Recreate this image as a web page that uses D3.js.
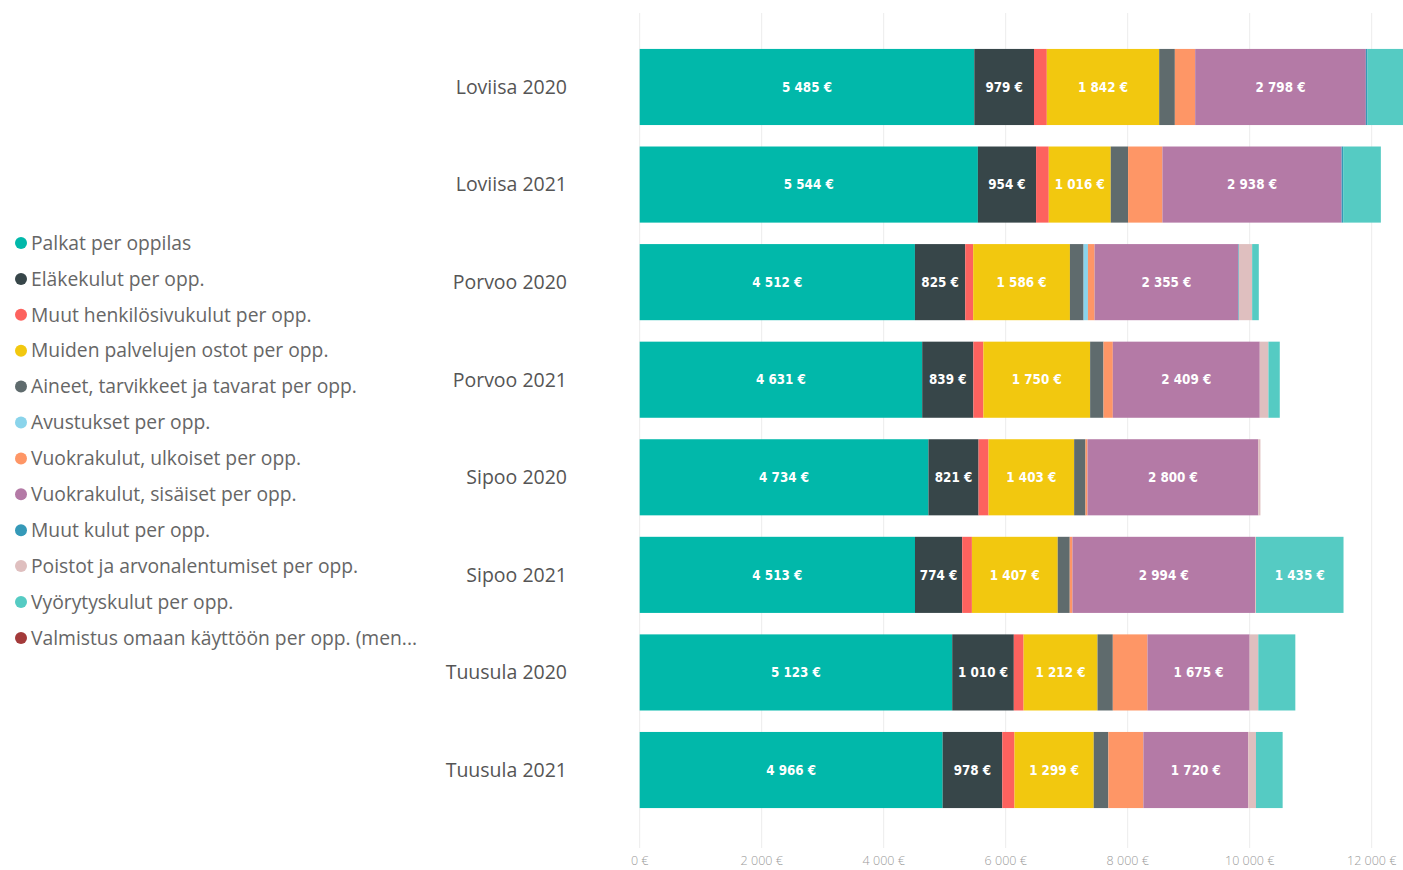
<!DOCTYPE html>
<html><head><meta charset="utf-8">
<script src="https://cdn.jsdelivr.net/npm/d3@7"></script>
<style>
html,body{margin:0;padding:0;background:#fff;overflow:hidden}
svg{display:block}
</style></head>
<body>
<svg id="chart" width="1403" height="870"></svg>
<script>
const categories = ["Loviisa 2020","Loviisa 2021","Porvoo 2020","Porvoo 2021","Sipoo 2020","Sipoo 2021","Tuusula 2020","Tuusula 2021"];
const seriesNames = ["Palkat per oppilas","Eläkekulut per opp.","Muut henkilösivukulut per opp.","Muiden palvelujen ostot per opp.","Aineet, tarvikkeet ja tavarat per opp.","Avustukset per opp.","Vuokrakulut, ulkoiset per opp.","Vuokrakulut, sisäiset per opp.","Muut kulut per opp.","Poistot ja arvonalentumiset per opp.","Vyörytyskulut per opp.","Valmistus omaan käyttöön per opp. (men..."];
const seriesColors = ["#01B8AA","#374649","#FD625E","#F2C80F","#5F6B6D","#8AD4EB","#FE9666","#B47AA6","#3599B8","#DFBFBF","#55CBC3","#A33A3A"];
const palkat     = [5485,5544,4512,4631,4734,4513,5123,4966];
const elake      = [979,954,825,839,821,774,1010,978];
const muutHenk   = [210,208,130,164,164,159,160,200];
const palvelut   = [1842,1016,1586,1750,1403,1407,1212,1299];
const aineet     = [257,284,224,219,186,197,251,240];
const avustukset = [0,0,71,0,0,0,0,0];
const vuokraUlk  = [333,563,109,153,33,44,568,574];
const vuokraSis  = [2798,2938,2355,2409,2800,2994,1675,1720];
const muutKulut  = [28,25,10,0,0,0,0,0];
const poistot    = [0,0,218,142,35,15,142,126];
const vyorytys   = [650,618,109,186,0,1435,607,437];
const valmistus  = [0,0,0,0,0,0,0,0];
const xTicks = [0,2000,4000,6000,8000,10000,12000];

const seriesValues = [palkat,elake,muutHenk,palvelut,aineet,avustukset,vuokraUlk,vuokraSis,muutKulut,poistot,vyorytys,valmistus];
const rows = categories.map((c,i)=>{const o={cat:c}; seriesNames.forEach((s,j)=>o[s]=seriesValues[j][i]); return o;});

const loc = d3.formatLocale({decimal:",",thousands:"\u00a0",grouping:[3],currency:[""," €"]});
const fmt = v => loc.format(",.0f")(v) + " €";

const svg = d3.select("#chart");
const x = d3.scaleLinear().domain([0,12000]).range([639.7,1371.7]);
const y = d3.scaleBand().domain(categories).range([38.2,818.8]).paddingInner(0.22).paddingOuter(0.11);

// gridlines
svg.append("g").selectAll("line").data(xTicks).join("line")
  .attr("x1",d=>x(d)).attr("x2",d=>x(d)).attr("y1",13).attr("y2",848)
  .attr("stroke","#ececec").attr("stroke-width",1);

// axis labels
svg.append("g").selectAll("text").data(xTicks).join("text")
  .attr("x",d=>x(d)).attr("y",865).attr("text-anchor","middle")
  .attr("font-family","'Open Sans', sans-serif").attr("font-size",12.5).attr("font-weight",300)
  .attr("fill","#9a9a9a").text(d=>fmt(d));

const stack = d3.stack().keys(seriesNames).offset(d3.stackOffsetDiverging);
const stacked = stack(rows);

const g = svg.append("g");
stacked.forEach((layer,j)=>{
  g.append("g").attr("fill",seriesColors[j]).selectAll("rect").data(layer.filter(d=>d[1]!==d[0])).join("rect")
    .attr("x",d=>x(Math.min(d[0],d[1])))
    .attr("width",d=>Math.abs(x(d[1])-x(d[0])))
    .attr("y",d=>y(d.data.cat)).attr("height",y.bandwidth());
});
stacked.forEach((layer,j)=>{
  g.append("g").selectAll("text").data(layer.filter(d=>Math.abs(x(d[1])-x(d[0]))>=44)).join("text")
    .attr("x",d=>(x(d[0])+x(d[1]))/2).attr("y",d=>y(d.data.cat)+y.bandwidth()/2)
    .attr("dy","0.35em").attr("text-anchor","middle")
    .attr("font-family","'DejaVu Sans Condensed','DejaVu Sans',sans-serif").attr("font-weight","bold")
    .attr("font-size",13.3).attr("fill","#fff")
    .text(d=>fmt(d[1]-d[0]));
});

// category labels
svg.append("g").selectAll("text").data(categories).join("text")
  .attr("x",567).attr("y",d=>y(d)+y.bandwidth()/2).attr("dy","0.35em").attr("text-anchor","end")
  .attr("font-family","'Open Sans', sans-serif").attr("font-size",19.5).attr("fill","#555")
  .text(d=>d);

// legend
const lg = svg.append("g").selectAll("g").data(seriesNames).join("g")
  .attr("transform",(d,i)=>`translate(0,${243+i*35.9})`);
lg.append("circle").attr("cx",21).attr("cy",0).attr("r",6).attr("fill",(d,i)=>seriesColors[i]);
lg.append("text").attr("x",31).attr("y",0).attr("dy","0.35em")
  .attr("font-family","'Open Sans', sans-serif").attr("font-size",19.3).attr("fill","#666").text(d=>d);
</script>
</body></html>
